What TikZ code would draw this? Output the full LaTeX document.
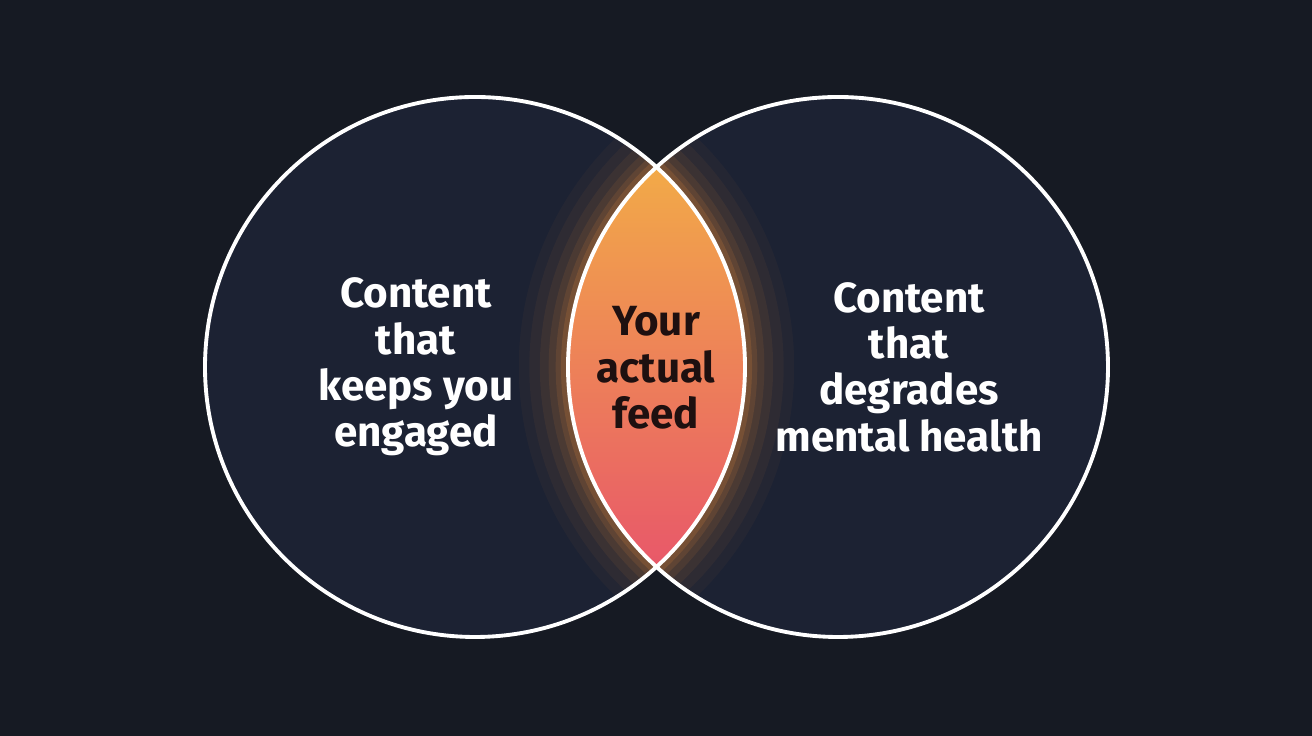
\documentclass[tikz,border=0pt]{standalone}
\usepackage{fontspec}
\setmainfont{Fira Sans}
\usetikzlibrary{positioning}
\definecolor{bgdark}{HTML}{161A23}
\definecolor{setfill}{HTML}{1C2233}
\definecolor{lenstop}{HTML}{F2AA48}
\definecolor{lensbot}{HTML}{E8566A}
\definecolor{glow}{HTML}{F0903C}
\definecolor{feedtext}{HTML}{1E1010}
\tikzset{
  set/.style={draw=white, line width=1.1pt},
  label/.style={text=white, font=\fontsize{12}{13.2}\selectfont\bfseries, align=center},
}
\begin{document}
\begin{tikzpicture}
  \fill[bgdark] (0,0) rectangle (13.12,7.36);
  \useasboundingbox (0,0) rectangle (13.12,7.36);
  \coordinate (cl) at (4.75,3.69);
  \coordinate (cr) at (8.38,3.69);
  \fill[setfill] (cl) circle [radius=2.7];
  \fill[setfill] (cr) circle [radius=2.7];
  % glow round the overlap
  \foreach \w/\o in {28/.04,22/.05,16/.07,11/.09,7/.12,4/.16}{
    \begin{scope}
      \clip (cl) circle [radius=2.7];
      \draw[glow, line width=\w pt, opacity=\o] (cr) circle [radius=2.7];
    \end{scope}
    \begin{scope}
      \clip (cr) circle [radius=2.7];
      \draw[glow, line width=\w pt, opacity=\o] (cl) circle [radius=2.7];
    \end{scope}
  }
  \begin{scope}
    \clip (cl) circle [radius=2.7];
    \clip (cr) circle [radius=2.7];
    \shade[top color=lenstop, bottom color=lensbot] (5.5,1.6) rectangle (7.6,5.7);
  \end{scope}
  \draw[set] (cl) circle [radius=2.7];
  \draw[set] (cr) circle [radius=2.7];
  \node[label] (engaged) at (4.16,3.69) {Content\\that\\keeps you\\engaged};
  \node[label] (degrades) at (9.09,3.69) {Content\\that\\degrades\\mental health};
  \node[label, text=feedtext] (feed) at (6.56,3.68) {Your\\actual\\feed};
\end{tikzpicture}
\end{document}
